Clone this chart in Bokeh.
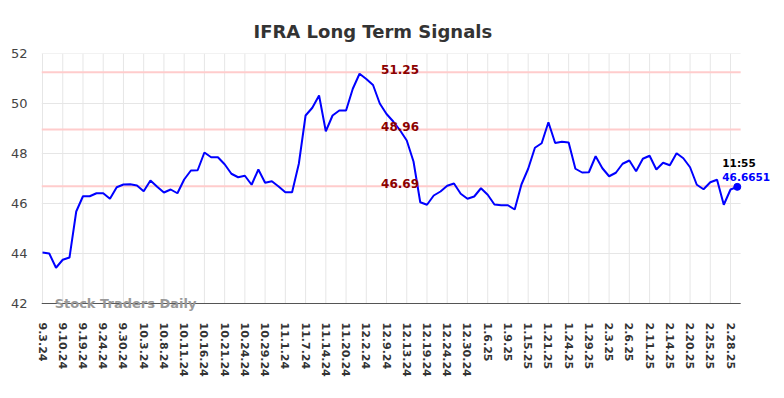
from bokeh.plotting import figure
from bokeh.models import Range1d, FixedTicker, Label, ColumnDataSource
from bokeh.embed import file_html
from bokeh.resources import INLINE
from bokeh.core.properties import value

title_text = "IFRA Long Term Signals"

values = [
    44.04, 44.00, 43.43, 43.75, 43.84, 45.68, 46.29, 46.29, 46.41, 46.41,
    46.19, 46.65, 46.76, 46.77, 46.72, 46.49, 46.92, 46.67, 46.44, 46.56,
    46.41, 46.96, 47.32, 47.33, 48.04, 47.85, 47.85, 47.57, 47.19, 47.05,
    47.11, 46.75, 47.36, 46.83, 46.89, 46.68, 46.45, 46.45, 47.59, 49.52,
    49.83, 50.32, 48.89, 49.52, 49.72, 49.72, 50.59, 51.19, 50.98, 50.74,
    50.00, 49.58, 49.28, 48.93, 48.52, 47.68, 46.05, 45.95, 46.32, 46.48,
    46.71, 46.80, 46.39, 46.19, 46.28, 46.61, 46.35, 45.96, 45.93, 45.93,
    45.76, 46.76, 47.39, 48.23, 48.41, 49.25, 48.42, 48.47, 48.44, 47.39,
    47.24, 47.25, 47.89, 47.41, 47.09, 47.23, 47.59, 47.72, 47.29, 47.79,
    47.91, 47.36, 47.63, 47.53, 48.01, 47.81, 47.45, 46.75, 46.57, 46.85,
    46.95, 45.95, 46.56, 46.6651,
]

tick_labels = [
    "9.3.24", "9.10.24", "9.19.24", "9.24.24", "9.30.24", "10.3.24", "10.8.24",
    "10.11.24", "10.16.24", "10.21.24", "10.24.24", "10.29.24", "11.1.24",
    "11.7.24", "11.14.24", "11.20.24", "12.2.24", "12.9.24", "12.13.24",
    "12.19.24", "12.24.24", "12.30.24", "1.6.25", "1.9.25", "1.15.25",
    "1.21.25", "1.24.25", "1.29.25", "2.3.25", "2.6.25", "2.11.25",
    "2.14.25", "2.20.25", "2.25.25", "2.28.25",
]
tick_step = 3

levels = [51.25, 48.96, 46.69]
level_texts = ["51.25", "48.96", "46.69"]

last_time = "11:55"
last_value_text = "46.6651"
watermark = "Stock Traders Daily"

y_ticks = [42, 44, 46, 48, 50, 52]

n = len(values)
xs = list(range(n))
tick_pos = [i * tick_step for i in range(len(tick_labels))]

x_start = -0.15
plot_end = n - 0.5          # where the plotted area (grid, axis) ends
y_lo, y_hi = 42, 52

FONT = "DejaVu Sans"

p = figure(
    width=784, height=398,
    output_backend="svg", toolbar_location=None,
    x_range=Range1d(x_start, 110.0), y_range=Range1d(41.6, y_hi),
    min_border_left=41, min_border_right=0, min_border_top=53, min_border_bottom=85,
)
p.outline_line_color = None
p.background_fill_color = "white"
p.border_fill_color = "white"
p.xgrid.visible = False
p.ygrid.visible = False

p.title.text = title_text
p.title.align = "left"
p.title.offset = 212
p.title.text_font = FONT
p.title.text_font_size = "18px"
p.title.text_font_style = "bold"
p.title.text_color = "#333333"
p.title.standoff = 24

# axes
xa = p.xaxis[0]
xa.ticker = FixedTicker(ticks=tick_pos)
xa.major_label_overrides = {pos: lab for pos, lab in zip(tick_pos, tick_labels)}
xa.major_label_orientation = "vertical"
xa.major_label_text_font = FONT
xa.major_label_text_font_size = "11px"
xa.major_label_text_font_style = "bold"
xa.major_label_text_color = "#333333"
xa.major_label_standoff = 9
xa.axis_line_color = None
xa.major_tick_line_color = None
xa.minor_tick_line_color = None
xa.major_tick_out = 0
xa.major_tick_in = 0

ya = p.yaxis[0]
ya.ticker = FixedTicker(ticks=y_ticks)
ya.major_label_text_font = FONT
ya.major_label_text_font_size = "13px"
ya.major_label_text_color = "#444444"
ya.major_label_standoff = 14
ya.axis_line_color = None
ya.major_tick_line_color = None
ya.minor_tick_line_color = None
ya.major_tick_out = 0
ya.major_tick_in = 0

# grid lines (limited to the plotted area)
p.segment(x0=tick_pos, y0=[y_lo] * len(tick_pos), x1=tick_pos, y1=[y_hi] * len(tick_pos),
          line_color="#e6e6e6", line_width=1)
p.segment(x0=[x_start] * len(y_ticks), y0=y_ticks, x1=[plot_end] * len(y_ticks), y1=y_ticks,
          line_color="#e6e6e6", line_width=1)

# level lines
p.segment(x0=[x_start] * len(levels), y0=levels, x1=[plot_end] * len(levels), y1=levels,
          line_color="#ffcccc", line_width=2)

# x axis line
p.segment(x0=[x_start], y0=[y_lo], x1=[plot_end], y1=[y_lo], line_color="#555555", line_width=1)

# main line
src = ColumnDataSource(dict(x=xs, y=values))
p.line("x", "y", source=src, line_color="#0000ff", line_width=2)

# level labels
lab_src = ColumnDataSource(dict(x=[53] * len(levels), y=levels, t=level_texts))
p.text("x", "y", text="t", source=lab_src, text_font=value(FONT), text_font_size="12px",
       text_font_style="bold", text_color="#8b0000", text_align="center",
       text_baseline="alphabetic", y_offset=-3)

# last point marker
p.scatter([xs[-1]], [values[-1]], size=7, color="#0000ff")

# last point annotations
p.add_layout(Label(x=xs[-1], y=values[-1], text=last_time, x_offset=-15, y_offset=24,
                   text_font=FONT, text_font_size="10.5px", text_font_style="bold",
                   text_color="#000000", text_align="left", text_baseline="alphabetic"))
p.add_layout(Label(x=xs[-1], y=values[-1], text=last_value_text, x_offset=-15, y_offset=10,
                   text_font=FONT, text_font_size="10.5px", text_font_style="bold",
                   text_color="#0000ff", text_align="left", text_baseline="alphabetic"))

# watermark
p.add_layout(Label(x=1.8, y=y_lo, text=watermark, text_font=FONT, text_font_size="13px",
                   text_font_style="bold", text_color="#999999", text_align="left",
                   text_baseline="middle"))

open("out.html", "w").write(file_html(p, INLINE))
